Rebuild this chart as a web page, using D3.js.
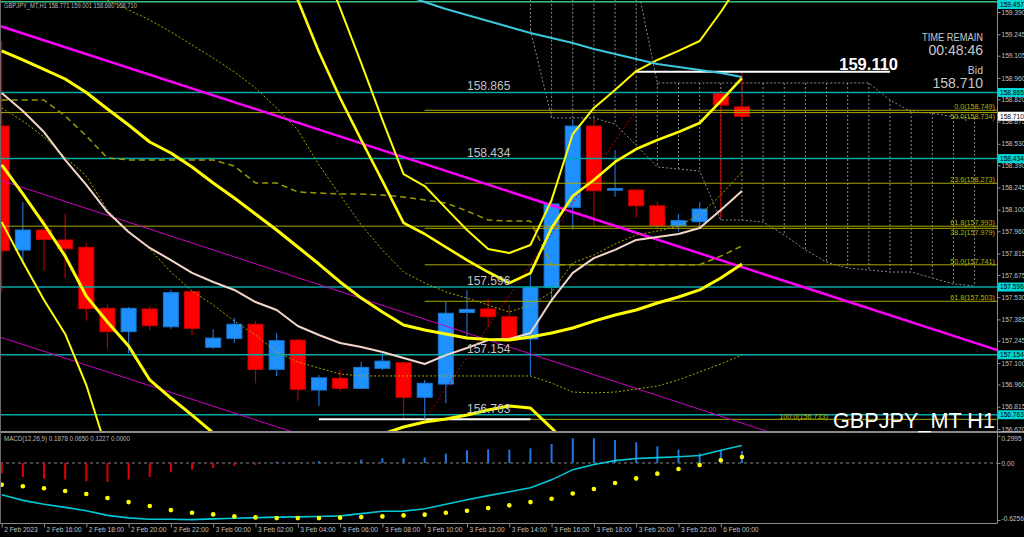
<!DOCTYPE html>
<html><head><meta charset="utf-8">
<script src="https://cdn.jsdelivr.net/npm/d3@7/dist/d3.min.js"></script>
<style>html,body{margin:0;padding:0;background:#000;}svg{display:block;}text{font-family:"Liberation Sans",Arial,sans-serif;}</style>
</head><body>
<svg id="c" width="1024" height="537"></svg>
<script>
// ---------- DATA ----------
const timeLabels = ["2 Feb 2023","2 Feb 16:00","2 Feb 18:00","2 Feb 20:00","2 Feb 22:00","3 Feb 00:00","3 Feb 02:00","3 Feb 04:00","3 Feb 06:00","3 Feb 08:00","3 Feb 10:00","3 Feb 12:00","3 Feb 14:00","3 Feb 16:00","3 Feb 18:00","3 Feb 20:00","3 Feb 22:00","6 Feb 00:00"];
const timeTickIdx = [0,2,4,6,8,10,12,14,16,18,20,22,24,26,28,30,32,34];
const priceTicks = [159.390,159.245,159.105,158.960,158.820,158.675,158.530,158.390,158.245,158.100,157.960,157.815,157.675,157.530,157.385,157.245,157.100,156.960,156.815,156.670];

const opens  = [158.646,157.837,157.968,157.903,157.855,157.457,157.305,157.453,157.337,157.566,157.203,157.261,157.353,157.059,157.250,156.924,157.000,156.935,157.066,157.102,156.877,156.963,157.430,157.453,157.402,157.257,157.592,158.116,158.646,158.228,158.229,158.126,157.996,158.022,158.860,158.771];
const highs  = [159.200,158.149,158.040,158.072,157.885,157.483,157.466,157.472,157.577,157.572,157.320,157.394,157.374,157.294,157.259,157.022,157.055,157.109,157.172,157.110,156.990,157.500,157.577,157.522,157.479,157.718,158.185,158.690,158.690,158.490,158.232,158.153,158.072,158.149,158.870,159.001];
const lows   = [157.560,157.751,157.702,157.653,157.376,157.194,157.164,157.316,157.324,157.281,157.190,157.233,156.968,157.016,156.854,156.820,156.918,156.929,157.055,156.733,156.733,156.838,157.250,157.337,157.250,157.022,157.494,157.972,157.994,158.185,158.050,157.979,157.957,157.990,158.050,158.680];
const closes = [157.833,157.968,157.907,157.846,157.455,157.305,157.457,157.344,157.559,157.327,157.263,157.353,157.059,157.246,156.929,157.004,156.935,157.072,157.113,156.877,156.968,157.425,157.450,157.402,157.250,157.592,158.138,158.646,158.224,158.238,158.126,157.996,158.029,158.105,158.783,158.710];

// indicator lines (price per bar, null = not shown)
const bandMid   = [159.136,159.077,159.015,158.953,158.865,158.757,158.653,158.542,158.470,158.379,158.275,158.177,158.072,157.968,157.857,157.746,157.629,157.524,157.433,157.348,157.316,157.290,157.263,157.254,157.250,157.270,157.296,157.329,157.374,157.414,157.446,157.492,157.531,157.577,157.655,157.746];
const bandLow   = [158.392,158.203,158.007,157.798,157.537,157.368,157.211,156.990,156.872,156.761,156.644,156.533,156.455,156.416,156.403,156.416,156.481,156.566,156.637,156.683,156.716,156.735,156.761,156.794,156.820,156.807,156.676,156.533,156.403];
const bandUp    = [null,null,null,null,null,null,null,null,null,null,null,null,null,null,null,159.762,159.416,159.057,158.686,158.333,158.255,158.111,157.968,157.844,157.818,157.870,158.164,158.594,158.764,158.881,159.005,159.077,159.136,159.201,159.390,159.599];
const bandUp2   = [null,null,null,null,null,null,null,null,null,null,null,null,null,159.716,159.468,159.129,158.829,158.555,158.288,158.014,157.942,157.857,157.772,157.694,157.622,157.687,157.981,158.190,158.294,158.412,158.496,158.555,158.607,158.666,158.809,158.959];
const bandLow2  = [158.020,157.759,157.511,157.290,156.957,156.520,156.272];
const maPink    = [158.862,158.744,158.607,158.425,158.262,158.085,157.955,157.851,157.772,157.688,157.629,157.577,157.498,157.446,157.342,157.283,157.231,157.205,157.172,157.133,157.094,157.152,157.198,157.250,157.257,157.296,157.511,157.688,157.785,157.838,157.903,157.922,157.942,157.981,158.098,158.222];
const dotLine1  = [158.764,158.679,158.575,158.444,158.320,158.098,157.961,157.844,157.694,157.570,157.479,157.374,157.283,157.172,157.107,157.068,157.029,157.016,157.016,157.016,157.016,157.016,157.016,157.016,157.016,157.016,156.970,156.911,156.905,156.911,156.931,156.950,156.990,157.042,157.094,157.153];
const dotLine2  = [null,null,null,null,null,159.468,159.403,159.338,159.260,159.175,159.090,158.999,158.894,158.764,158.620,158.392,158.196,158.001,157.838,157.694,157.622,157.564,157.524,157.479,157.433,157.479,157.564,157.753,157.805,157.877,157.935,157.961,157.994,158.066,158.196,158.346];
const kijun     = [158.816,158.816,158.816,158.712,158.581,158.438,158.425,158.425,158.425,158.425,158.425,158.385,158.275,158.275,158.216,158.209,158.203,158.203,158.196,158.183,158.164,158.144,158.092,158.033,158.027,158.027,157.741,157.741,157.741,157.741,157.741,157.741,157.741,157.741,157.798,157.864];
const maCyan    = [null,null,null,null,null,null,null,null,null,null,null,null,null,null,null,null,null,null,159.599,159.507,159.455,159.410,159.370,159.331,159.292,159.253,159.220,159.188,159.149,159.116,159.083,159.051,159.031,159.012,158.992,158.966];
const spanA = [null,null,null,null,null,null,null,null,null,null,null,null,null,null,null,null,null,null,null,null,null,null,null,null,null,159.600,159.600,159.600,159.600,159.600,159.600,158.927,158.927,158.927,158.927,158.927,158.927,158.927,158.927,158.927,158.927,158.927,158.816,158.738,158.731,158.705,158.699];
const spanB = [null,null,null,null,null,null,null,null,null,null,null,null,null,null,null,null,null,null,null,null,null,null,null,null,null,159.273,158.699,158.699,158.699,158.659,158.522,158.379,158.366,158.353,158.033,158.033,158.020,157.935,157.838,157.759,157.720,157.707,157.694,157.694,157.655,157.616,157.603];

// horizontal levels, fibs, trendlines
const hLevels = [159.457,158.865,158.434,157.596,157.154,156.763];
const fibLevels = [158.749,158.273,157.979,157.741,157.503,156.733];
const fibNames  = ["0.0(158.749)","23.6(158.273)","38.2(157.979)","50.0(157.741)","61.8(157.503)","100.0(156.733)"];
const fib2Levels = [158.734,157.993];
const fib2Names  = ["50.0(158.734)","61.8(157.993)"];
const trendMain = [[0,159.295],[46,157.233]];
const trendUpper = [[0,158.290],[46,156.211]];
const trendLower = [[0,157.266],[46,155.209]];
const fibTrend = [[20,156.733],[30,158.749]];
const highLine = [[30,159.001],[42,159.001]];
const lowLine  = [[15,156.733],[25,156.733]];

// MACD
const macdHist = [-0.116,-0.154,-0.172,-0.181,-0.201,-0.209,-0.181,-0.154,-0.103,-0.073,-0.055,-0.029,-0.022,0.015,0.007,0.019,0.009,0.037,0.052,0.052,0.059,0.103,0.140,0.150,0.147,0.161,0.209,0.271,0.271,0.253,0.227,0.183,0.147,0.107,0.143,0.132];
const macdSignal = [-0.238,-0.256,-0.278,-0.308,-0.341,-0.384,-0.429,-0.472,-0.517,-0.546,-0.564,-0.586,-0.597,-0.605,-0.605,-0.605,-0.600,-0.594,-0.586,-0.575,-0.567,-0.546,-0.524,-0.495,-0.465,-0.429,-0.392,-0.334,-0.286,-0.219,-0.169,-0.117,-0.066,-0.022,0.030,0.066];
const macdLine = [-0.349,-0.410,-0.453,-0.487,-0.525,-0.575,-0.602,-0.618,-0.618,-0.622,-0.613,-0.607,-0.600,-0.594,-0.591,-0.587,-0.580,-0.556,-0.530,-0.528,-0.503,-0.453,-0.403,-0.358,-0.316,-0.272,-0.185,-0.073,-0.016,0.026,0.050,0.059,0.068,0.082,0.140,0.191];
const macdTicks = [0.2995,0,-0.6256];
const macdTickText = ["0.2995","0.00","-0.6256"];

// ---------- SCALES ----------
const svg = d3.select("#c");
const x = d3.scaleLinear().domain([0,1]).range([1.7,22.85]);
const y = d3.scaleLinear().domain([156.670,159.390]).range([429,12]);
const ym = d3.scaleLinear().domain([-0.6256,0.2995]).range([520,435.7]);
const PW = 997;

svg.append("rect").attr("width",1024).attr("height",537).attr("fill","#000");
const defs = svg.append("defs");
defs.append("clipPath").attr("id","cm").append("rect").attr("x",1).attr("y",0).attr("width",PW-1).attr("height",431);
defs.append("clipPath").attr("id","cd").append("rect").attr("x",1).attr("y",433).attr("width",PW-1).attr("height",90);

const gm = svg.append("g").attr("clip-path","url(#cm)");
const gd = svg.append("g").attr("clip-path","url(#cd)");

const lineOf = arr => d3.line().defined(d=>d!=null).x((d,i)=>x(i)).y(d=>y(d))(arr);
const segPath = pts => d3.line().x(d=>x(d[0])).y(d=>y(d[1]))(pts);
const extend = pts => { const [a,b]=pts; const s=(b[1]-a[1])/(b[0]-a[0]); return [[-1,a[1]-s*(a[0]+1)],[48,a[1]+s*(48-a[0])]]; };

// ---------- CLOUD (dotted) ----------
const cloudIdx = d3.range(spanA.length).filter(i=>spanA[i]!=null && spanB[i]!=null);
gm.selectAll("line.hatch").data(cloudIdx).join("line")
  .attr("x1",i=>x(i)).attr("x2",i=>x(i)).attr("y1",i=>y(spanA[i])).attr("y2",i=>y(spanB[i]))
  .attr("stroke","#8c8c8c").attr("stroke-width",1).attr("stroke-dasharray","2,2");
[spanA,spanB].forEach(s=>gm.append("path").attr("d",lineOf(s)).attr("fill","none")
  .attr("stroke","#8c8c8c").attr("stroke-width",1).attr("stroke-dasharray","2,2"));

// ---------- CANDLES ----------
const candles = opens.map((o,i)=>({i,o,h:highs[i],l:lows[i],c:closes[i],up:closes[i]>=o}));
gm.selectAll("line.wick").data(candles).join("line")
  .attr("x1",d=>x(d.i)).attr("x2",d=>x(d.i)).attr("y1",d=>y(d.h)).attr("y2",d=>y(d.l))
  .attr("stroke",d=>d.up?"#1c70c8":"#b00000").attr("stroke-width",1.2);
gm.selectAll("rect.body").data(candles).join("rect")
  .attr("x",d=>x(d.i)-7.5).attr("width",15)
  .attr("y",d=>y(Math.max(d.o,d.c))).attr("height",d=>Math.max(1.5,Math.abs(y(d.o)-y(d.c))))
  .attr("fill",d=>d.up?"#1e90ff":"#ff0000").attr("stroke",d=>d.up?"#1a78d8":"#d00000").attr("stroke-width",1);

// ---------- HORIZONTAL LEVELS ----------
gm.selectAll("line.hl").data(hLevels).join("line")
  .attr("x1",0).attr("x2",PW).attr("y1",d=>y(d)).attr("y2",d=>y(d))
  .attr("stroke",(d,i)=>i===0?"#3cbf80":"#00a8a8").attr("stroke-width",1.5);

// fib lines
gm.selectAll("line.f2").data(fib2Levels).join("line")
  .attr("x1",0).attr("x2",PW).attr("y1",d=>y(d)).attr("y2",d=>y(d)).attr("stroke","#a8a800").attr("stroke-width",1);
gm.selectAll("line.f1").data(fibLevels).join("line")
  .attr("x1",x(fibTrend[0][0])).attr("x2",PW).attr("y1",d=>y(d)).attr("y2",d=>y(d)).attr("stroke","#a8a800").attr("stroke-width",1);
// labels: where two fib levels are close, the lower one's label goes just under its line
const allFib = fibLevels.map((v,i)=>({v,t:fibNames[i]})).concat(fib2Levels.map((v,i)=>({v,t:fib2Names[i]})));
allFib.forEach(f=>{ f.below = allFib.some(g=>g!==f && g.v>f.v && g.v-f.v<0.03); });
gm.selectAll("text.fib").data(allFib).join("text")
  .attr("x",d=>d.v<156.8?828:995).attr("y",d=>d.below?y(d.v)+6.5:y(d.v)-0.8).attr("text-anchor","end")
  .attr("font-size",7.2).attr("fill","#b8b800").text(d=>d.t);

// white high/low lines
[highLine,lowLine].forEach(p=>gm.append("path").attr("d",segPath(p)).attr("stroke","#ffffff").attr("stroke-width",2).attr("fill","none"));

// trendlines
gm.append("path").attr("d",segPath(extend(trendMain))).attr("stroke","#ff00ff").attr("stroke-width",2.5).attr("fill","none");
[trendUpper,trendLower].forEach(t=>gm.append("path").attr("d",segPath(extend(t))).attr("stroke","#c800c8").attr("stroke-width",1).attr("fill","none"));
gm.append("path").attr("d",segPath(fibTrend)).attr("stroke","#c00000").attr("stroke-width",1).attr("stroke-dasharray","2,2").attr("fill","none");

// ---------- INDICATORS ----------
const draw = (arr,color,w,dash)=>{ const p=gm.append("path").attr("d",lineOf(arr)).attr("fill","none").attr("stroke",color).attr("stroke-width",w).attr("stroke-linejoin","round"); if(dash)p.attr("stroke-dasharray",dash); };
draw(kijun,"#9a9a00",1.5,"6,4");
draw(dotLine1,"#a8a800",1,"2,2");
draw(dotLine2,"#a8a800",1,"2,2");
draw(maPink,"#f2d6c8",2);
draw(bandLow2,"#ffff00",2);
draw(bandUp,"#ffff00",2);
draw(bandUp2,"#ffff00",2.6);
draw(bandMid,"#ffff00",3);
draw(bandLow,"#ffff00",3);
draw(maCyan,"#3cc8dc",2);

// level texts
gm.selectAll("text.hl").data(hLevels.slice(1)).join("text")
  .attr("x",467).attr("y",d=>y(d)-2).attr("font-size",12).attr("fill","#c4c4c4").text(d=>d.toFixed(3));

// ---------- MACD ----------
gd.append("line").attr("x1",0).attr("x2",PW).attr("y1",ym(0)).attr("y2",ym(0)).attr("stroke","#8a8a8a").attr("stroke-dasharray","3,3");
gd.selectAll("line.h").data(macdHist).join("line")
  .attr("x1",(d,i)=>x(i)).attr("x2",(d,i)=>x(i)).attr("y1",ym(0)).attr("y2",d=>ym(d))
  .attr("stroke",d=>d<0?"#e00000":"#1e78e0").attr("stroke-width",2);
gd.append("path").attr("d",d3.line().x((d,i)=>x(i)).y(d=>ym(d))(macdLine)).attr("fill","none").attr("stroke","#00c8d8").attr("stroke-width",1.6);
gd.selectAll("circle.s").data(macdSignal).join("circle")
  .attr("cx",(d,i)=>x(i)).attr("cy",d=>ym(d)).attr("r",2.3).attr("fill","#ffff00");

// ---------- FRAME & AXES ----------
svg.append("line").attr("x1",0).attr("x2",1024).attr("y1",432).attr("y2",432).attr("stroke","#8a8a8a").attr("stroke-width",2);
svg.append("line").attr("x1",0).attr("x2",PW).attr("y1",523.5).attr("y2",523.5).attr("stroke","#8a8a8a");
svg.append("line").attr("x1",PW+0.5).attr("x2",PW+0.5).attr("y1",0).attr("y2",523.5).attr("stroke","#8a8a8a");
svg.append("line").attr("x1",0.5).attr("x2",0.5).attr("y1",0).attr("y2",523.5).attr("stroke","#6a6a6a");

const ax = svg.append("g").attr("transform",`translate(${PW+0.5},0)`)
  .call(d3.axisRight(y).tickValues(priceTicks).tickSize(3).tickFormat(d3.format(".3f")));
const axm = svg.append("g").attr("transform",`translate(${PW+0.5},0)`)
  .call(d3.axisRight(ym).tickValues(macdTicks).tickSize(3).tickFormat((d,i)=>macdTickText[i]));
axm.selectAll(".tick text").attr("dy",(d,i)=>i===0?"0.75em":(i===2?"0.1em":"0.32em"));
const axt = svg.append("g").attr("transform","translate(0,523.5)")
  .call(d3.axisBottom(x).tickValues(timeTickIdx).tickSize(4).tickFormat((d,i)=>timeLabels[i]));
axt.selectAll(".tick text").attr("text-anchor","start").attr("x",2).attr("y",8.5).attr("dy","0");
[ax,axm,axt].forEach(a=>{
  a.select(".domain").remove();
  a.selectAll(".tick line").attr("stroke","#8a8a8a");
  a.selectAll(".tick text").attr("fill","#c0c0c0").attr("font-size",6.6).attr("font-family","Liberation Sans, Arial, sans-serif");
});
ax.selectAll(".tick text").attr("x",4);
axm.selectAll(".tick text").attr("x",4);

// level labels on price axis (kept inside the picture)
const lab = svg.append("g");
hLevels.forEach(v=>{
  const top = Math.max(0, y(v)-4.5);
  lab.append("rect").attr("x",PW+1).attr("y",top).attr("width",26).attr("height",9).attr("fill","#00d4d4");
  lab.append("text").attr("x",PW+3).attr("y",top+6.9).attr("font-size",6.6).attr("fill","#000").text(v.toFixed(3));
});
lab.append("rect").attr("x",PW+1).attr("y",y(closes[closes.length-1])-4.5).attr("width",26).attr("height",9).attr("fill","#ffffff");
lab.append("text").attr("x",PW+3).attr("y",y(closes[closes.length-1])+2.4).attr("font-size",6.6).attr("fill","#000").text(closes[closes.length-1].toFixed(3));

// ---------- TEXTS ----------
svg.append("text").attr("x",4).attr("y",7.5).attr("font-size",6.5).attr("fill","#b8b8b8")
  .attr("textLength",133).attr("lengthAdjust","spacingAndGlyphs")
  .text(`GBPJPY_MT,H1  ${opens[35].toFixed(3)} ${highs[35].toFixed(3)} ${lows[35].toFixed(3)} ${closes[35].toFixed(3)}`);
svg.append("text").attr("x",4).attr("y",441).attr("font-size",6.8).attr("fill","#b8b8b8")
  .attr("textLength",126).attr("lengthAdjust","spacingAndGlyphs")
  .text("MACD(12,26,9) 0.1878 0.0650 0.1227 0.0000");
const rt = svg.append("g").attr("fill","#c8c8c8").attr("text-anchor","end");
rt.append("text").attr("x",983).attr("y",41).attr("font-size",10).attr("textLength",61).attr("lengthAdjust","spacingAndGlyphs").text("TIME REMAIN");
rt.append("text").attr("x",983).attr("y",55).attr("font-size",14).text("00:48:46");
rt.append("text").attr("x",983).attr("y",74).attr("font-size",10.5).text("Bid");
rt.append("text").attr("x",983).attr("y",88).attr("font-size",14).text(closes[35].toFixed(3));
svg.append("text").attr("x",898).attr("y",69.5).attr("text-anchor","end").attr("font-size",16.5).attr("font-weight","bold").attr("fill","#ffffff").text("159.110");
svg.append("text").attr("x",833).attr("y",428).attr("font-size",22).attr("textLength",162).attr("lengthAdjust","spacingAndGlyphs").attr("fill","#ffffff").text("GBPJPY_MT H1");
</script>
</body></html>
